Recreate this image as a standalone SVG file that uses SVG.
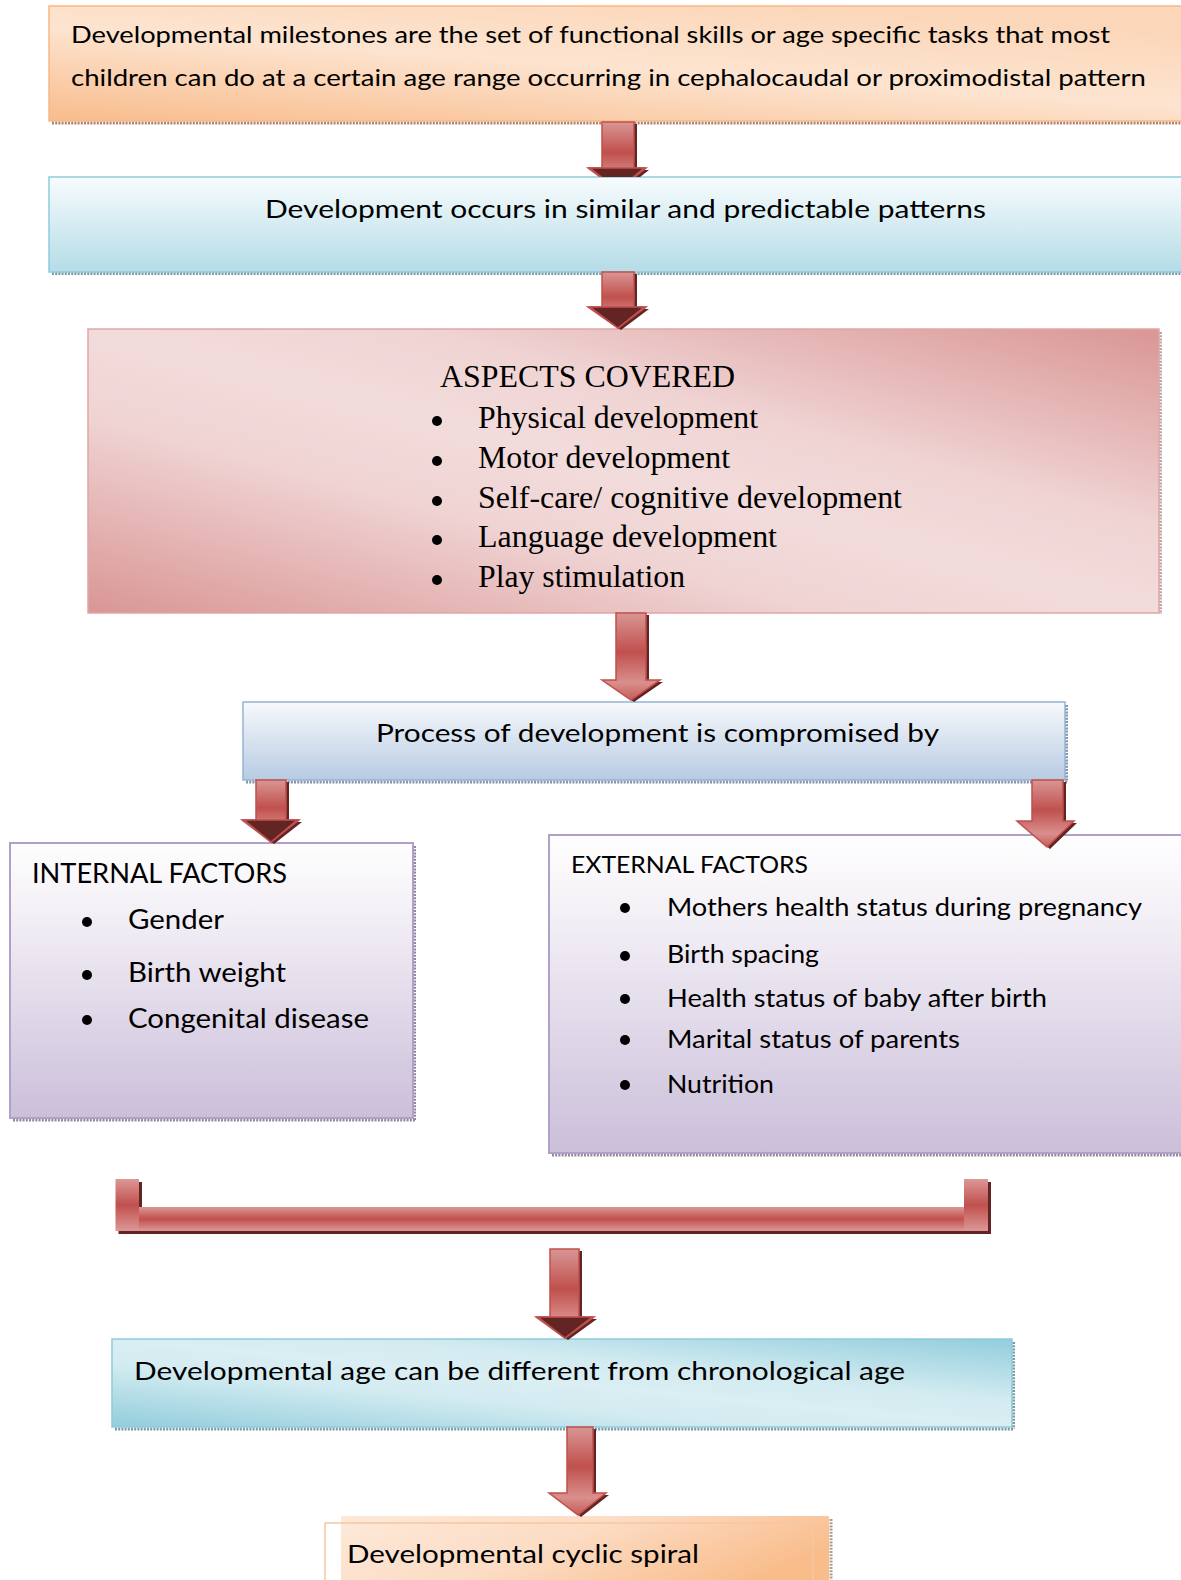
<svg xmlns="http://www.w3.org/2000/svg" width="1181" height="1580" viewBox="0 0 1181 1580">
<defs>
<linearGradient id="gOrange" x1="0" y1="1" x2="0.7" y2="0">
<stop offset="0" stop-color="#f8bc8c"/><stop offset="0.55" stop-color="#fde4d0"/><stop offset="1" stop-color="#fbd6b8"/>
</linearGradient>
<linearGradient id="gOrange2" x1="0" y1="0" x2="1" y2="0.4">
<stop offset="0" stop-color="#fde9d9"/><stop offset="0.5" stop-color="#fcdcc4"/><stop offset="1" stop-color="#f9bd8c"/>
</linearGradient>
<linearGradient id="gBlue" x1="0" y1="0" x2="0" y2="1">
<stop offset="0" stop-color="#f7fcfd"/><stop offset="1" stop-color="#b5dce7"/>
</linearGradient>
<linearGradient id="gPink" x1="0" y1="1" x2="1" y2="0">
<stop offset="0" stop-color="#d99694"/><stop offset="0.35" stop-color="#f0d4d4"/><stop offset="0.5" stop-color="#f2dcdb"/><stop offset="0.65" stop-color="#f0d4d4"/><stop offset="1" stop-color="#d99694"/>
</linearGradient>
<linearGradient id="gProc" x1="0" y1="0" x2="0" y2="1">
<stop offset="0" stop-color="#f7f9fc"/><stop offset="1" stop-color="#b7cbe3"/>
</linearGradient>
<linearGradient id="gPurple" x1="0" y1="0" x2="0" y2="1">
<stop offset="0" stop-color="#fefefe"/><stop offset="0.2" stop-color="#f6f3f8"/><stop offset="1" stop-color="#cbbfda"/>
</linearGradient>
<linearGradient id="gAqua" x1="0" y1="1" x2="1" y2="0">
<stop offset="0" stop-color="#92cddc"/><stop offset="0.35" stop-color="#d2ebf1"/><stop offset="0.5" stop-color="#daeef3"/><stop offset="0.65" stop-color="#d2ebf1"/><stop offset="1" stop-color="#92cddc"/>
</linearGradient>
<linearGradient id="gArrow" x1="0" y1="0" x2="0" y2="1">
<stop offset="0" stop-color="#d99694"/><stop offset="0.45" stop-color="#c0504d"/><stop offset="0.8" stop-color="#d98f8d"/><stop offset="1" stop-color="#c65c59"/>
</linearGradient>
<linearGradient id="gBar" x1="0" y1="0" x2="0" y2="1">
<stop offset="0" stop-color="#dc9896"/><stop offset="0.5" stop-color="#c0504d"/><stop offset="1" stop-color="#dc9896"/>
</linearGradient>
<clipPath id="clipA1"><rect x="0" y="0" width="1181" height="177"/></clipPath>
</defs>
<style>
.t{font-family:Lato,"Open Sans","Liberation Sans",sans-serif;fill:#000}
.s{font-family:"Liberation Serif","DejaVu Serif",serif;fill:#000;font-size:32px}
.sh{fill:none;stroke-width:3;stroke-dasharray:2 1.2}
.arrow{fill:url(#gArrow);stroke:#c0504d;stroke-width:1.5}
.ashadow{fill:#632523}
.dhead{fill:#632523;stroke:#c0504d;stroke-width:1.5}
.bul{fill:#000}
</style>

<g id="node-milestones">
<line class="sh" x1="52" y1="123" x2="1181" y2="123" stroke="#a88470"/>
<rect x="49" y="6" width="1150" height="115" fill="url(#gOrange)" stroke="#f8b887" stroke-width="1.5"/>
<text class="t" x="71" y="43" font-size="24" textLength="1039" lengthAdjust="spacingAndGlyphs">Developmental milestones are the set of functional skills or age specific tasks that most</text>
<text class="t" x="71" y="86" font-size="24" textLength="1075" lengthAdjust="spacingAndGlyphs">children can do at a certain age range occurring in cephalocaudal or proximodistal pattern</text>
</g>

<g id="node-patterns">
<line class="sh" x1="52" y1="273.5" x2="1181" y2="273.5" stroke="#7d9aa4"/>
<rect x="49" y="177" width="1150" height="95" fill="url(#gBlue)" stroke="#8fcbdb" stroke-width="1.5"/>
<text class="t" x="265" y="218" font-size="25" textLength="721" lengthAdjust="spacingAndGlyphs">Development occurs in similar and predictable patterns</text>
</g>

<g id="node-aspects">
<line class="sh" x1="1160.5" y1="332" x2="1160.5" y2="614" stroke="#b9a6a6"/>
<rect x="88" y="329" width="1071" height="284" fill="url(#gPink)" stroke="#e0a6a5" stroke-width="1.5"/>
<text class="s" x="440" y="387" textLength="295" lengthAdjust="spacingAndGlyphs">ASPECTS COVERED</text>
<circle class="bul" cx="437" cy="421" r="5"/>
<text class="s" x="478" y="428" textLength="280" lengthAdjust="spacingAndGlyphs">Physical development</text>
<circle class="bul" cx="437" cy="461" r="5"/>
<text class="s" x="478" y="468" textLength="252" lengthAdjust="spacingAndGlyphs">Motor development</text>
<circle class="bul" cx="437" cy="501" r="5"/>
<text class="s" x="478" y="508" textLength="424" lengthAdjust="spacingAndGlyphs">Self-care/ cognitive development</text>
<circle class="bul" cx="437" cy="540" r="5"/>
<text class="s" x="478" y="547" textLength="299" lengthAdjust="spacingAndGlyphs">Language development</text>
<circle class="bul" cx="437" cy="580" r="5"/>
<text class="s" x="478" y="587" textLength="207" lengthAdjust="spacingAndGlyphs">Play stimulation</text>
</g>

<g id="node-process">
<line class="sh" x1="246" y1="782" x2="1067" y2="782" stroke="#8494a8"/>
<line class="sh" x1="1066.5" y1="705" x2="1066.5" y2="782" stroke="#8494a8"/>
<rect x="243" y="702" width="822" height="78" fill="url(#gProc)" stroke="#95b3d7" stroke-width="1.5"/>
<text class="t" x="376" y="742" font-size="25" textLength="563" lengthAdjust="spacingAndGlyphs">Process of development is compromised by</text>
</g>

<g id="node-internal">
<line class="sh" x1="13" y1="1120" x2="415" y2="1120" stroke="#8f86a0"/>
<line class="sh" x1="414.5" y1="846" x2="414.5" y2="1120" stroke="#8f86a0"/>
<rect x="10" y="843" width="403" height="275" fill="url(#gPurple)" stroke="#b2a1c7" stroke-width="2"/>
<text class="t" x="32" y="883" font-size="26" textLength="255" lengthAdjust="spacingAndGlyphs">INTERNAL FACTORS</text>
<circle class="bul" cx="87" cy="922" r="5"/>
<text class="t" x="128" y="929" font-size="27" textLength="96" lengthAdjust="spacingAndGlyphs">Gender</text>
<circle class="bul" cx="87" cy="975" r="5"/>
<text class="t" x="128" y="982" font-size="27" textLength="158" lengthAdjust="spacingAndGlyphs">Birth weight</text>
<circle class="bul" cx="87" cy="1020" r="5"/>
<text class="t" x="128" y="1028" font-size="27" textLength="241" lengthAdjust="spacingAndGlyphs">Congenital disease</text>
</g>

<g id="node-external">
<line class="sh" x1="552" y1="1155" x2="1181" y2="1155" stroke="#8f86a0"/>
<rect x="549" y="835" width="650" height="318" fill="url(#gPurple)" stroke="#b2a1c7" stroke-width="2"/>
<text class="t" x="571" y="873" font-size="23" textLength="237" lengthAdjust="spacingAndGlyphs">EXTERNAL FACTORS</text>
<circle class="bul" cx="625" cy="908" r="5"/>
<text class="t" x="667" y="916" font-size="24.5" textLength="475" lengthAdjust="spacingAndGlyphs">Mothers health status during pregnancy</text>
<circle class="bul" cx="625" cy="956" r="5"/>
<text class="t" x="667" y="963" font-size="24.5" textLength="152" lengthAdjust="spacingAndGlyphs">Birth spacing</text>
<circle class="bul" cx="625" cy="999" r="5"/>
<text class="t" x="667" y="1007" font-size="24.5" textLength="380" lengthAdjust="spacingAndGlyphs">Health status of baby after birth</text>
<circle class="bul" cx="625" cy="1040" r="5"/>
<text class="t" x="667" y="1048" font-size="24.5" textLength="293" lengthAdjust="spacingAndGlyphs">Marital status of parents</text>
<circle class="bul" cx="625" cy="1085" r="5"/>
<text class="t" x="667" y="1093" font-size="24.5" textLength="107" lengthAdjust="spacingAndGlyphs">Nutrition</text>
</g>

<g id="node-devage">
<line class="sh" x1="115" y1="1429" x2="1014" y2="1429" stroke="#7d9aa4"/>
<line class="sh" x1="1013.5" y1="1342" x2="1013.5" y2="1429" stroke="#7d9aa4"/>
<rect x="112" y="1339" width="900" height="88" fill="url(#gAqua)" stroke="#8fcbdb" stroke-width="1.5"/>
<text class="t" x="134" y="1380" font-size="25" textLength="771" lengthAdjust="spacingAndGlyphs">Developmental age can be different from chronological age</text>
</g>

<g id="node-spiral">
<line class="sh" x1="831" y1="1519" x2="831" y2="1580" stroke="#b0a090"/>
<rect x="341" y="1516" width="488" height="80" fill="url(#gOrange2)"/>
<rect x="325" y="1523" width="488" height="70" fill="none" stroke="#f8c6a0" stroke-width="1.5"/>
<text class="t" x="347" y="1563" font-size="25" textLength="352" lengthAdjust="spacingAndGlyphs">Developmental cyclic spiral</text>
</g>

<g id="connectors">
<g clip-path="url(#clipA1)">
<polygon class="ashadow" transform="translate(3,2)" points="602,122 634,122 634,168 646,168 618,190 588,168 602,168"/>
<polygon class="arrow" points="602,122 634,122 634,168 646,168 618,190 588,168 602,168"/>
<polygon class="dhead" points="590,168 644,168 618,190"/>
</g>
<g>
<polygon class="ashadow" transform="translate(3,2)" points="602,272 634,272 634,307 646,307 618,328 588,307 602,307"/>
<polygon class="arrow" points="602,272 634,272 634,307 646,307 618,328 588,307 602,307"/>
<polygon class="dhead" points="590,307 644,307 618,328"/>
</g>
<g>
<polygon class="ashadow" transform="translate(3,2)" points="616,613 646,613 646,680 660,680 631,700 602,680 616,680"/>
<polygon class="arrow" points="616,613 646,613 646,680 660,680 631,700 602,680 616,680"/>
</g>
<g>
<polygon class="ashadow" transform="translate(3,2)" points="256,780 286,780 286,820 299,820 271,842 242,820 256,820"/>
<polygon class="arrow" points="256,780 286,780 286,820 299,820 271,842 242,820 256,820"/>
<polygon class="dhead" points="244,820 297,820 271,842"/>
</g>
<g>
<polygon class="ashadow" transform="translate(3,2)" points="1032,780 1063,780 1063,821 1074,821 1047,847 1017,821 1032,821"/>
<polygon class="arrow" points="1032,780 1063,780 1063,821 1074,821 1047,847 1017,821 1032,821"/>
</g>
<g>
<path class="ashadow" transform="translate(3,3)" d="M115.5,1179 H139 V1207 H964 V1179 H988 V1231 H115.5 Z"/>
<rect x="139" y="1207" width="825" height="24" fill="url(#gBar)"/>
<rect x="115.5" y="1179" width="23.5" height="52" fill="url(#gBar)"/>
<rect x="964" y="1179" width="24" height="52" fill="url(#gBar)"/>
</g>
<g>
<polygon class="ashadow" transform="translate(3,2)" points="550,1249 579,1249 579,1317 594,1317 565,1338 536,1317 550,1317"/>
<polygon class="arrow" points="550,1249 579,1249 579,1317 594,1317 565,1338 536,1317 550,1317"/>
<polygon class="dhead" points="538,1317 592,1317 565,1338"/>
</g>
<g>
<polygon class="ashadow" transform="translate(3,2)" points="567,1427 593,1427 593,1493 606,1493 578,1515 549,1493 567,1493"/>
<polygon class="arrow" points="567,1427 593,1427 593,1493 606,1493 578,1515 549,1493 567,1493"/>
</g>
</g>
</svg>
